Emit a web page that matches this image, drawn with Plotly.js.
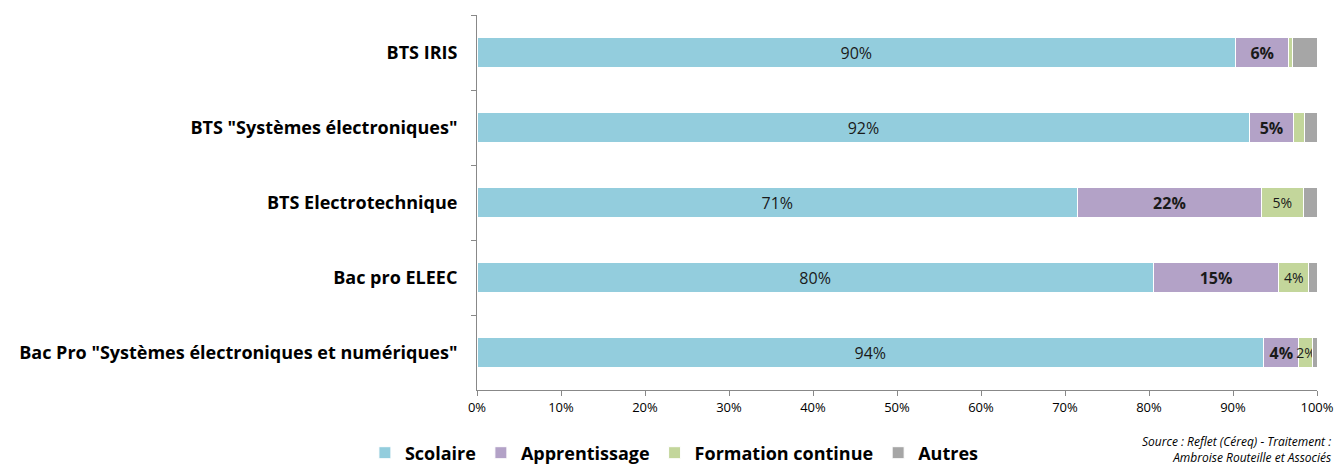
<!DOCTYPE html>
<html>
<head>
<meta charset="utf-8">
<script src="https://cdn.plot.ly/plotly-3.0.1.min.js"></script>
<style>html,body{margin:0;padding:0;background:#fff;}#chart{width:1336px;height:467px;}</style>
</head>
<body>
<div id="chart"></div>
<script>
var categories = ['BTS IRIS', 'BTS "Systèmes électroniques"', 'BTS Electrotechnique', 'Bac pro ELEEC', 'Bac Pro "Systèmes électroniques et numériques"'];
var scolaire = [90.3, 92.0, 71.5, 80.5, 93.65];
var apprentissage = [6.35, 5.16, 21.87, 14.96, 4.2];
var formationContinue = [0.44, 1.31, 5.0, 3.54, 1.67];
var autres = [2.91, 1.53, 1.63, 1.0, 0.48];
var scolaireLabels = ['90%', '92%', '71%', '80%', '94%'];
var apprentissageLabels = ['6%', '5%', '22%', '15%', '4%'];
var formationLabels = ['', '', '5%', '4%', '2%'];
var seriesNames = ['Scolaire', 'Apprentissage', 'Formation continue', 'Autres'];
var colors = ['#93CDDD', '#B3A2C7', '#C3D69B', '#A6A6A6'];

var FONT = 'Open Sans, sans-serif';
function mk(vals, name, color, labels, tfont) {
  return {
    type: 'bar', orientation: 'h', y: categories, x: vals, name: name,
    marker: {color: color, line: {color: '#ffffff', width: 1}},
    width: 0.4,
    text: labels || null, textposition: labels ? 'inside' : 'none',
    insidetextanchor: 'middle', constraintext: 'none', textangle: 0,
    textfont: tfont, hoverinfo: 'skip'
  };
}
var data = [
  mk(scolaire, seriesNames[0], colors[0], scolaireLabels, {family: FONT, size: 16, color: '#1a1a1a'}),
  mk(apprentissage, seriesNames[1], colors[1], apprentissageLabels, {family: FONT, size: 16, color: '#1a1a1a', weight: 'bold'}),
  mk(formationContinue, seriesNames[2], colors[2], formationLabels, {family: FONT, size: 14, color: '#1a1a1a'}),
  mk(autres, seriesNames[3], colors[3], null, {family: FONT, size: 13})
];

var layout = {
  width: 1336, height: 467,
  margin: {l: 477, r: 19, t: 15, b: 77, autoexpand: false},
  barmode: 'stack',
  paper_bgcolor: '#ffffff', plot_bgcolor: '#ffffff',
  showlegend: true,
  font: {family: FONT, color: '#000'},
  xaxis: {
    range: [0, 100], dtick: 10, ticksuffix: '%',
    showgrid: false, zeroline: false,
    showline: true, linecolor: '#888888', linewidth: 1,
    ticks: 'outside', ticklen: 5, tickcolor: '#888888',
    tickfont: {family: FONT, size: 13, color: '#000'}
  },
  yaxis: {
    type: 'category', categoryorder: 'array', categoryarray: categories,
    autorange: 'reversed',
    showgrid: false, zeroline: false,
    showline: true, linecolor: '#888888', linewidth: 1,
    ticks: 'outside', ticklen: 5, tickcolor: '#888888', tickson: 'boundaries',
    ticklabelstandoff: 15,
    tickfont: {family: FONT, size: 18, color: '#000', weight: 'bold'}
  },
  legend: {
    orientation: 'h', x: 0.235, xanchor: 'center', y: -0.168, yanchor: 'middle',
    font: {family: FONT, size: 18, color: '#000', weight: 'bold'},
    traceorder: 'normal', bgcolor: 'rgba(0,0,0,0)'
  },
  annotations: [{
    xref: 'paper', yref: 'paper', x: 1.019, y: -0.108, xanchor: 'right', yanchor: 'top',
    align: 'right', showarrow: false,
    text: '<i>Source : Reflet (Céreq) - Traitement :<br>Ambroise Routeille et Associés</i>',
    font: {family: FONT, size: 12, color: '#000'}
  }]
};
Plotly.newPlot('chart', data, layout, {displayModeBar: false, staticPlot: true});
</script>
</body>
</html>
